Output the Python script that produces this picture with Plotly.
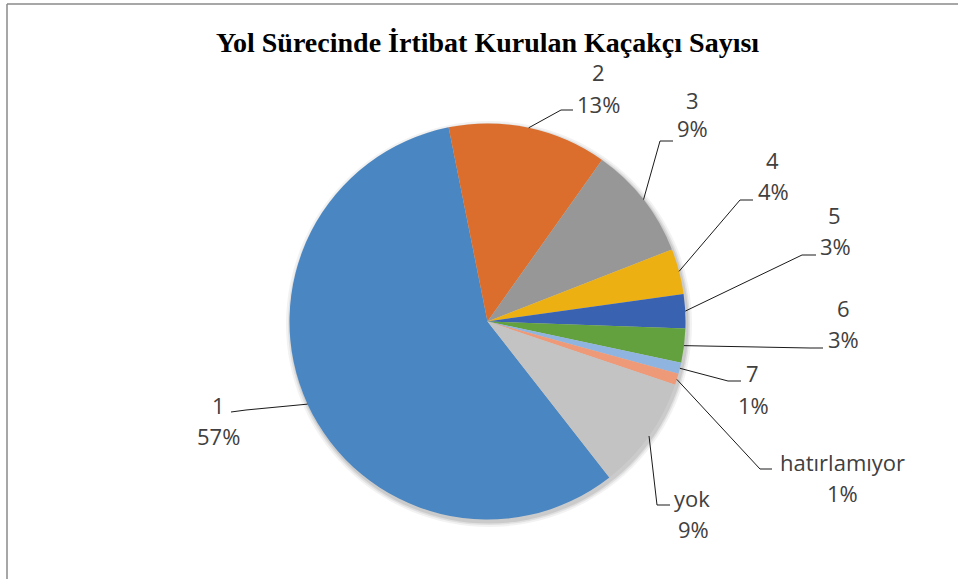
import math
import plotly.graph_objects as go

# ---- data ----
categories = ["1", "2", "3", "4", "5", "6", "7", "hatırlamıyor", "yok"]
counts = [62, 14, 10, 4, 3, 3, 1, 1, 10]
colors = ["#4A86C1", "#DB6E2C", "#979797", "#EDB013", "#3962B1",
          "#63A13F", "#8FB4E0", "#EE9A78", "#C3C3C3"]
title_text = "Yol Sürecinde İrtibat Kurulan Kaçakçı Sayısı"

# ---- layout geometry (pixels) ----
W, H = 958, 579
CX, CY, R = 487.5, 321.5, 198
ROT = 142  # start angle of first slice, clockwise from 12 o'clock

# label placement (styling): name centre, percent centre, elbow, end of leader
label_pos = {
    "1": dict(name=(218, 405), pct=(218, 436), elbow=(246, 410), end=(231, 412)),
    "2": dict(name=(598, 72), pct=(598, 104), elbow=(561, 110), end=(573, 110)),
    "3": dict(name=(692, 100), pct=(692, 128), elbow=(660, 141), end=(673, 141)),
    "4": dict(name=(772, 160), pct=(773, 191), elbow=(740, 200), end=(753, 200)),
    "5": dict(name=(834, 215), pct=(835, 246), elbow=(802, 255), end=(816, 255)),
    "6": dict(name=(843, 308), pct=(843, 339), elbow=(810, 348), end=(823, 348)),
    "7": dict(name=(752, 373), pct=(753, 405), elbow=(728, 381), end=(741, 381)),
    "hatırlamıyor": dict(name=(842, 462), pct=(842, 493), elbow=(760, 469), end=(772, 469)),
    "yok": dict(name=(692, 498), pct=(693, 529), elbow=(657, 505), end=(670, 505)),
}


def px(x):
    return x / W


def py(y):
    return 1 - y / H


fig = go.Figure()

# soft shadow behind the pie
for d, op in [(5, 0.05), (3, 0.07), (1.5, 0.09)]:
    fig.add_shape(type="circle", xref="paper", yref="paper",
                  x0=px(CX - R - d + 1.5), x1=px(CX + R + d + 1.5),
                  y0=py(CY + R + d + 2.5), y1=py(CY - R - d + 2.5),
                  line=dict(width=0), fillcolor=f"rgba(0,0,0,{op})", layer="below")

fig.add_trace(go.Pie(
    labels=categories, values=counts, sort=False, direction="clockwise",
    rotation=ROT, textinfo="none", hoverinfo="label+value+percent",
    marker=dict(colors=colors, line=dict(width=0)),
    domain=dict(x=[px(CX - R), px(CX + R)], y=[py(CY + R), py(CY - R)]),
    showlegend=False,
))

total = sum(counts)
acc = 0
font_lbl = dict(family="Open Sans, Liberation Sans, sans-serif", size=22, color="#404040")
for cat, v in zip(categories, counts):
    start = ROT + acc / total * 360
    acc += v
    end_a = ROT + acc / total * 360
    mid = math.radians((start + end_a) / 2)
    sx = CX + R * math.sin(mid)
    sy = CY - R * math.cos(mid)
    lp = label_pos[cat]
    ex, ey = lp["elbow"]
    tx, ty = lp["end"]
    fig.add_shape(type="path", xref="paper", yref="paper",
                  path=f"M {px(sx)} {py(sy)} L {px(ex)} {py(ey)} L {px(tx)} {py(ty)}",
                  line=dict(color="#1a1a1a", width=1))
    pct = round(v / total * 100)
    fig.add_annotation(x=px(lp["name"][0]), y=py(lp["name"][1]), xref="paper", yref="paper",
                       text=cat, showarrow=False, xanchor="center", yanchor="middle",
                       font=font_lbl)
    fig.add_annotation(x=px(lp["pct"][0]), y=py(lp["pct"][1]), xref="paper", yref="paper",
                       text=f"{pct}%", showarrow=False, xanchor="center", yanchor="middle",
                       font=font_lbl)

# chart-area frame (top and left edges visible)
fig.add_shape(type="line", xref="paper", yref="paper", x0=px(7), x1=1, y0=py(4), y1=py(4),
              line=dict(color="#8a8a8a", width=1.5))
fig.add_shape(type="line", xref="paper", yref="paper", x0=px(7), x1=px(7), y0=py(4), y1=0,
              line=dict(color="#8a8a8a", width=1.5))

fig.update_layout(
    width=W, height=H,
    margin=dict(l=0, r=0, t=0, b=0),
    paper_bgcolor="white", plot_bgcolor="white",
    title=dict(text=f"<b>{title_text}</b>", x=px(487.5), y=py(42),
               xanchor="center", yanchor="middle",
               font=dict(family="Liberation Serif, Times New Roman, serif", size=28, color="black")),
)

fig.write_html("out.html", config={"displayModeBar": False},
               post_script="document.body.style.margin='0';document.body.style.overflow='hidden';")
